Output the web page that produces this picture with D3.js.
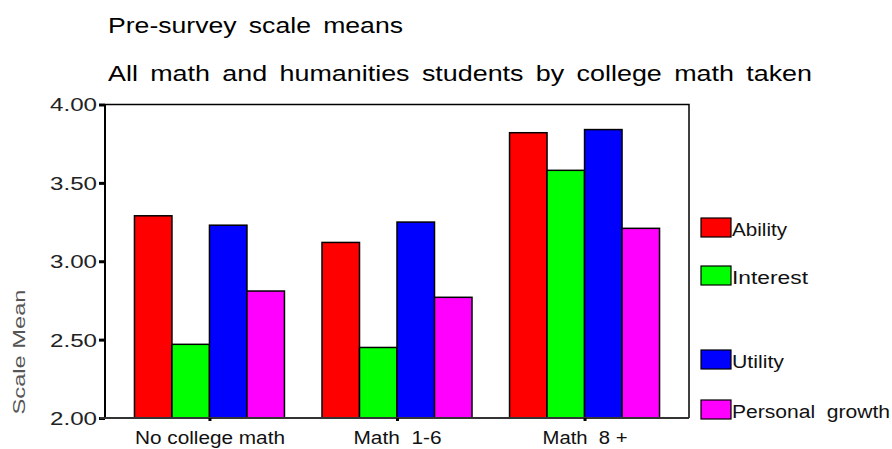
<!DOCTYPE html>
<html>
<head>
<meta charset="utf-8">
<script src="https://d3js.org/d3.v7.min.js"></script>
<style>
	body { margin: 0; background: #fff; }
	text { font-family: "Liberation Sans", Arial, sans-serif; }
</style>
</head>
<body>
<svg width="892" height="449"></svg>
<script>
var categories = ['No college math', 'Math  1-6', 'Math  8 +']
var seriesNames = ['Ability', 'Interest', 'Utility', 'Personal  growth']
var seriesColors = ['#ff0000', '#00ff00', '#0000ff', '#ff00ff']

var ability = [3.29, 3.12, 3.82]
var interest = [2.47, 2.45, 3.58]
var utility = [3.23, 3.25, 3.84]
var personalGrowth = [2.81, 2.77, 3.21]

var yTicks = [2.00, 2.50, 3.00, 3.50, 4.00]

var allSeries = [ability, interest, utility, personalGrowth]

var svg = d3.select('svg')
var plotLeft = 105, plotRight = 689, plotTop = 104.5, plotBottom = 418

var x = d3.scalePoint()
	.domain(categories)
	.range([plotLeft, plotRight])
	.padding(0.557)

var xSub = d3.scaleBand()
	.domain(seriesNames)
	.range([-75, 75])

var y = d3.scaleLinear()
	.domain([2, 4])
	.range([plotBottom, plotTop])

// stretch a text to a given width (the source font is wide)
function fitText(sel, len) {
	sel.attr('textLength', len).attr('lengthAdjust', 'spacingAndGlyphs')
}

// titles
svg.append('text')
	.attr('x', 108).attr('y', 33)
	.attr('font-size', 22).attr('word-spacing', 4)
	.text('Pre-survey scale means')
	.call(fitText, 295)
svg.append('text')
	.attr('x', 108).attr('y', 81)
	.attr('font-size', 22).attr('word-spacing', 4)
	.text('All math and humanities students by college math taken')
	.call(fitText, 704)

// frame
svg.append('path')
	.attr('d', 'M' + plotLeft + ',' + plotTop + 'H' + plotRight + 'V' + plotBottom)
	.attr('fill', 'none').attr('stroke', '#000').attr('stroke-width', 1.5)

// bars
var rows = []
categories.forEach(function(c, i) {
	seriesNames.forEach(function(s, j) {
		rows.push({cat: c, series: s, value: allSeries[j][i], color: seriesColors[j]})
	})
})

svg.append('g').selectAll('rect')
	.data(rows)
	.enter().append('rect')
		.attr('x', function(d) { return x(d.cat) + xSub(d.series) })
		.attr('y', function(d) { return y(d.value) })
		.attr('width', xSub.bandwidth())
		.attr('height', function(d) { return plotBottom - y(d.value) })
		.attr('fill', function(d) { return d.color })
		.attr('stroke', '#000')
		.attr('stroke-width', 1.5)

// y axis
var yAxis = svg.append('g')
	.attr('transform', 'translate(' + plotLeft + ',0)')
	.call(d3.axisLeft(y).tickValues(yTicks).tickFormat(d3.format('.2f')).tickSize(6).tickPadding(2))
yAxis.select('.domain').attr('d', 'M0,' + plotTop + 'V' + plotBottom).attr('stroke', '#000').attr('stroke-width', 2)
yAxis.selectAll('.tick line').attr('stroke', '#000').attr('stroke-width', 3)
yAxis.selectAll('.tick text')
	.attr('font-size', 18).attr('fill', '#222').attr('dy', '0.36em')
	.attr('font-family', '"Liberation Sans", Arial, sans-serif')
	.call(fitText, 47)

// x axis
var xAxis = svg.append('g')
	.attr('transform', 'translate(0,' + plotBottom + ')')
	.call(d3.axisBottom(x).tickSize(3).tickPadding(10.5))
xAxis.select('.domain').attr('d', 'M' + (plotLeft - 5) + ',0H' + plotRight).attr('stroke', '#333').attr('stroke-width', 2)
xAxis.selectAll('.tick line').attr('stroke', '#000').attr('stroke-width', 3)
var xLabelLen = [150, 88, 85]
xAxis.selectAll('.tick text')
	.attr('font-size', 17.5).attr('fill', '#111').attr('dy', '0.71em')
	.attr('font-family', '"Liberation Sans", Arial, sans-serif')
	.style('white-space', 'pre')
	.each(function(d, i) { d3.select(this).call(fitText, xLabelLen[i]) })

// y axis title
svg.append('text')
	.attr('transform', 'translate(25,352) rotate(-90)')
	.attr('text-anchor', 'middle')
	.attr('font-size', 17).attr('fill', '#555')
	.text('Scale Mean')
	.call(fitText, 125)

// legend
var legendY = [218, 266, 350, 400]
var legendLen = [55, 76, 52, 158]
var legend = svg.append('g').selectAll('g')
	.data(seriesNames)
	.enter().append('g')
		.attr('transform', function(d, i) { return 'translate(701,' + legendY[i] + ')' })
legend.append('rect')
	.attr('width', 30).attr('height', 19)
	.attr('fill', function(d, i) { return seriesColors[i] })
	.attr('stroke', '#000').attr('stroke-width', 1.2)
legend.append('text')
	.attr('x', 31).attr('y', 17.5)
	.attr('font-size', 18).attr('fill', '#111')
	.style('white-space', 'pre')
	.text(function(d) { return d })
	.each(function(d, i) { d3.select(this).call(fitText, legendLen[i]) })
</script>
</body>
</html>
